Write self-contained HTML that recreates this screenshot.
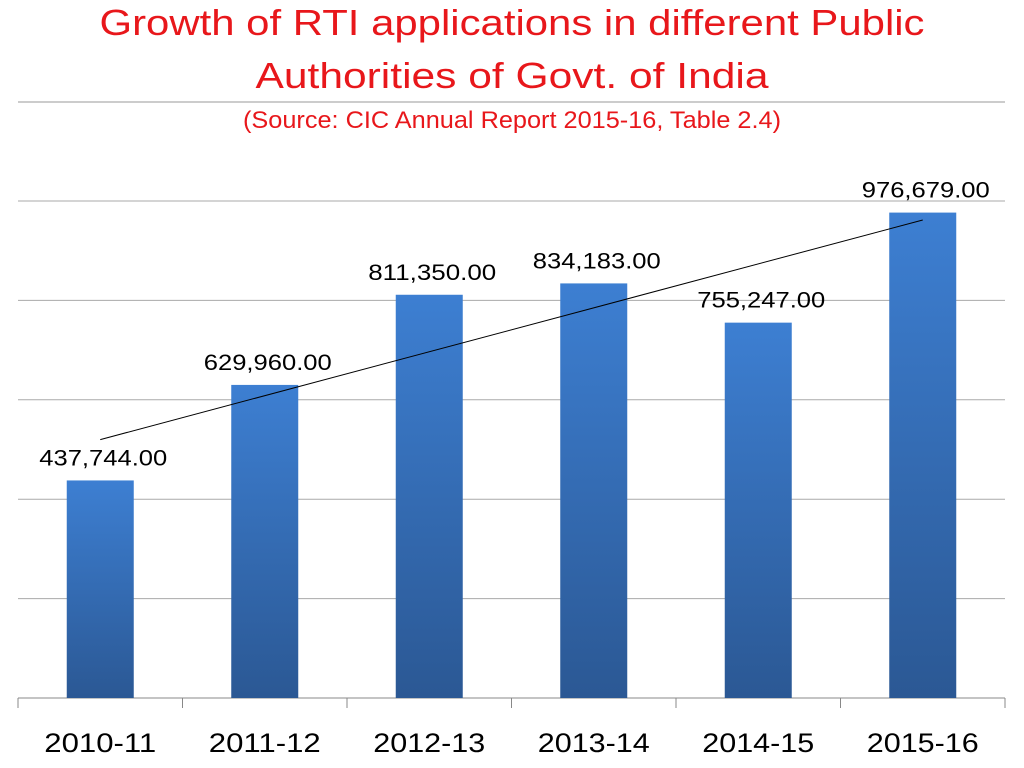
<!DOCTYPE html>
<html><head><meta charset="utf-8"><style>
body{margin:0;background:#fff;}
svg{display:block;font-family:"Liberation Sans",sans-serif;}
</style></head><body>
<svg width="1024" height="768" viewBox="0 0 1024 768">
<defs><linearGradient id="bg" x1="0" y1="0" x2="0" y2="1"><stop offset="0" stop-color="#3d7fd2"/><stop offset="1" stop-color="#2b5894"/></linearGradient></defs>
<text x="512" y="35" text-anchor="middle" font-size="36" fill="#e8171b" textLength="825" lengthAdjust="spacingAndGlyphs">Growth of RTI applications in different Public</text>
<text x="512" y="88" text-anchor="middle" font-size="36" fill="#e8171b" textLength="513" lengthAdjust="spacingAndGlyphs">Authorities of Govt. of India</text>
<text x="512" y="128" text-anchor="middle" font-size="24" fill="#e8171b" textLength="538" lengthAdjust="spacingAndGlyphs">(Source: CIC Annual Report 2015-16, Table 2.4)</text>
<line x1="18" y1="102" x2="1005" y2="102" stroke="#999" stroke-width="1"/>
<g id="plot"></g>
</svg>
<script>
const categories=["2010-11","2011-12","2012-13","2013-14","2014-15","2015-16"];
const values=[437744,629960,811350,834183,755247,976679];
const valueLabels=["437,744.00","629,960.00","811,350.00","834,183.00","755,247.00","976,679.00"];
const yTicks=[0,200000,400000,600000,800000,1000000];
const NS="http://www.w3.org/2000/svg";
const L=18,R=1005,T=201,B=698,yMax=1000000;
const bw=(R-L)/categories.length;
const xc=i=>L+bw*(i+0.5);
const y=v=>B-(v/yMax)*(B-T);
const g=document.getElementById('plot');
function mk(t,a){const e=document.createElementNS(NS,t);for(const k in a)e.setAttribute(k,a[k]);g.appendChild(e);return e;}
yTicks.forEach((t,i)=>{const e=mk('line',{x1:L,x2:R,y1:y(t),y2:y(t),stroke:i===0?'#888':'#aaa','stroke-width':1});

});
for(let i=0;i<=categories.length;i++){const e=mk('line',{x1:L+bw*i,x2:L+bw*i,y1:B,y2:B+10,stroke:'#888'});

}
values.forEach((v,i)=>{
const r=mk('rect',{x:xc(i)-33.5,y:y(v),width:67,height:B-y(v),fill:'url(#bg)'});


const t=mk('text',{x:xc(i)+3,y:y(v)-15,'text-anchor':'middle','font-size':22,fill:'#000',textLength:128,lengthAdjust:'spacingAndGlyphs'});
t.textContent=valueLabels[i];


const c=mk('text',{x:xc(i),y:752,'text-anchor':'middle','font-size':27,fill:'#000',textLength:112,lengthAdjust:'spacingAndGlyphs'});
c.textContent=categories[i];


});
// linear trendline
const n=values.length;const mx=(n+1)/2;const my=values.reduce((a,b)=>a+b,0)/n;
let sxy=0,sxx=0;values.forEach((v,i)=>{sxy+=(i+1-mx)*(v-my);sxx+=(i+1-mx)**2;});
const sl=sxy/sxx;const f=x=>my+sl*(x-mx);
const tl=mk('line',{x1:xc(0),y1:y(f(1)),x2:xc(n-1),y2:y(f(n)),stroke:'#000','stroke-width':1});


</script>
</body></html>
